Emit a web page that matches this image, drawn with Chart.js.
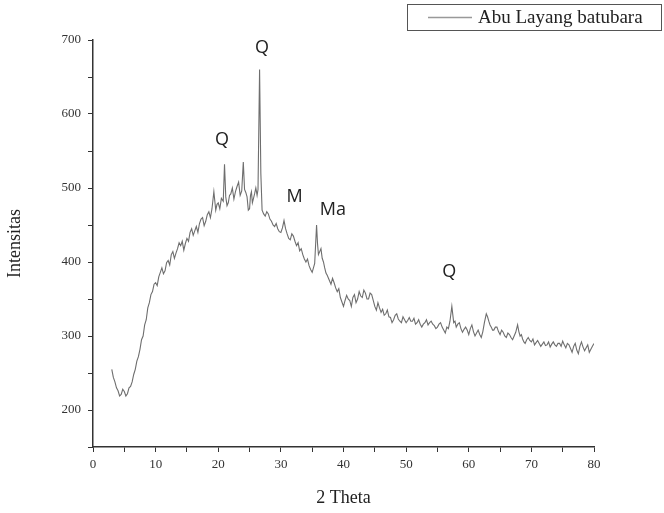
<!DOCTYPE html>
<html>
<head>
<meta charset="utf-8">
<script src="https://cdn.jsdelivr.net/npm/chart.js@4/dist/chart.umd.min.js"></script>
<style>
html,body{margin:0;padding:0;background:#fff;}
#wrap{width:664px;height:513px;position:relative;}
</style>
</head>
<body>
<div id="wrap"><canvas id="c" width="664" height="513"></canvas></div>
<script>
const seriesLabel = 'Abu Layang batubara';
const twoTheta = [
  3.0,3.25,3.5,3.75, 4.0,4.25,4.5,4.75, 5.0,5.25,5.5,5.75, 6.0,6.25,6.5,6.75,
  7.0,7.25,7.5,7.75, 8.0,8.25,8.5,8.75, 9.0,9.25,9.5,9.75, 10.0,10.25,10.5,10.75,
  11.0,11.25,11.5,11.75, 12.0,12.25,12.5,12.75, 13.0,13.25,13.5,13.75, 14.0,14.25,14.5,14.75,
  15.0,15.25,15.5,15.75, 16.0,16.25,16.5,16.75, 17.0,17.25,17.5,17.75, 18.0,18.25,18.5,18.75,
  19.0,19.3,19.6,19.8, 20.0,20.25,20.5,20.8, 21.0,21.2,21.4,21.6,21.8, 22.0,22.25,22.5,22.75,
  23.0,23.25,23.5,23.75, 24.0,24.2,24.4,24.6,24.8, 25.0,25.15,25.3,25.45,25.6,25.8,
  26.0,26.2,26.35,26.6,26.8, 27.0,27.25,27.5,27.75, 28.0,28.25,28.5,28.75, 29.0,29.25,29.5,29.75,
  30.0,30.25,30.5,30.75, 31.0,31.25,31.5,31.75, 32.0,32.25,32.5,32.75, 33.0,33.25,33.5,33.75,
  34.0,34.25,34.5,34.75, 35.0,35.2,35.4,35.7,35.85, 36.0,36.2,36.4,36.6,36.8, 37.0,37.2,37.4,37.6,37.8,
  38.0,38.25,38.5,38.75, 39.0,39.25,39.5,39.75, 40.0,40.25,40.5,40.75, 41.0,41.25,41.5,41.75,
  42.0,42.25,42.5,42.75, 43.0,43.25,43.5,43.75, 44.0,44.25,44.5,44.75, 45.0,45.25,45.5,45.75,
  46.0,46.25,46.5,46.75, 47.0,47.25,47.5,47.75, 48.0,48.25,48.5,48.75, 49.0,49.25,49.5,49.75,
  50.0,50.25,50.5,50.75, 51.0,51.25,51.5,51.75, 52.0,52.25,52.5,52.75, 53.0,53.25,53.5,53.75,
  54.0,54.25,54.5,54.75, 55.0,55.25,55.5,55.75, 56.0,56.25,56.5,56.75, 57.0,57.3,57.6,57.8,
  58.0,58.25,58.5,58.75, 59.0,59.25,59.5,59.75, 60.0,60.25,60.5,60.75, 61.0,61.25,61.5,61.75,
  62.0,62.25,62.5,62.8, 63.0,63.2,63.4,63.6,63.8, 64.0,64.25,64.5,64.75, 65.0,65.25,65.5,65.75,
  66.0,66.25,66.5,66.75, 67.0,67.25,67.5,67.8, 68.0,68.2,68.4,68.6,68.8, 69.0,69.25,69.5,69.75,
  70.0,70.25,70.5,70.75, 71.0,71.25,71.5,71.75, 72.0,72.25,72.5,72.75, 73.0,73.25,73.5,73.75,
  74.0,74.25,74.5,74.75, 75.0,75.25,75.5,75.75, 76.0,76.25,76.5,76.75, 77.0,77.25,77.5,77.75,
  78.0,78.25,78.5,78.75, 79.0,79.25,79.5,79.75, 80.0
];
const intensity = [
  255,244,238,230, 226,219,221,228, 225,219,222,230, 232,238,248,255,
  266,272,282,295, 300,315,322,338, 345,356,360,370, 372,368,380,386,
  392,384,388,399, 402,396,410,414, 405,412,418,426, 422,428,416,425,
  432,428,440,445, 436,442,448,440, 452,458,460,449, 455,464,468,460,
  472,495,470,478, 480,472,486,482, 532,488,476,480,490, 492,500,485,495,
  502,508,490,496, 535,498,494,488,470, 472,490,495,480,485,492,
  500,490,498,660,520, 470,465,462,468, 465,458,455,450, 448,452,445,441,
  440,446,456,445, 438,432,430,438, 435,428,422,426, 415,418,410,404,
  400,404,395,390, 386,392,398,450,425, 410,414,418,405,400, 392,385,382,378,374,
  370,378,372,365, 360,364,352,346, 340,348,355,350, 348,340,352,356,
  345,350,360,354, 352,362,358,350, 350,358,356,348, 340,335,345,338,
  332,336,328,330, 335,326,325,318, 322,328,330,323, 320,318,326,322,
  318,321,325,320, 320,324,316,318, 322,316,312,316, 318,322,315,318,
  320,316,314,310, 312,316,318,312, 308,304,312,310, 320,340,318,320,
  312,316,318,310, 305,309,312,308, 302,310,315,306, 300,304,308,302,
  298,306,318,330, 326,320,315,312,308, 308,312,312,306, 302,308,305,300,
  298,304,302,298, 295,300,305,315, 306,300,302,296,292, 290,295,298,294,
  292,296,288,291, 294,290,286,289, 292,287,288,292, 285,289,292,288,
  286,290,290,286, 293,288,284,290, 288,283,278,286, 290,281,276,286,
  292,285,280,284, 288,278,282,286, 290
];
const xTicksMajor = [0,10,20,30,40,50,60,70,80];
const yTicksMajor = [200,300,400,500,600,700];
const peakLabels = ['Q','Q','M','Ma','Q'];
const peakLabelX = [20.6,27.0,32.2,38.3,56.9];
const peakLabelY = [565,690,488,470,386];

const serif = '"Liberation Serif","DejaVu Serif",serif';

const annotPlugin = {
  id: 'annot',
  afterDatasetsDraw(chart) {
    const ctx = chart.ctx, xs = chart.scales.x, ys = chart.scales.y;
    ctx.save();
    ctx.font = '18px "Open Sans","Liberation Sans",sans-serif';
    ctx.fillStyle = '#222';
    ctx.textAlign = 'center';
    ctx.textBaseline = 'middle';
    peakLabels.forEach((t, i) => {
      ctx.fillText(t, xs.getPixelForValue(peakLabelX[i]), ys.getPixelForValue(peakLabelY[i]));
    });
    ctx.restore();
  },
  afterDraw(chart) {
    const ctx = chart.ctx;
    ctx.save();
    ctx.strokeStyle = '#555';
    ctx.lineWidth = 1;
    ctx.strokeRect(407.5, 4.5, 254, 26);
    ctx.strokeStyle = '#999';
    ctx.lineWidth = 1.5;
    ctx.beginPath(); ctx.moveTo(428, 17.5); ctx.lineTo(472, 17.5); ctx.stroke();
    ctx.font = '19px ' + serif;
    ctx.fillStyle = '#222';
    ctx.textBaseline = 'middle';
    ctx.fillText(chart.data.datasets[0].label, 478, 18);
    ctx.restore();
  }
};

new Chart(document.getElementById('c'), {
  type: 'line',
  data: {
    datasets: [{
      label: seriesLabel,
      data: twoTheta.map((x, i) => ({x: x, y: intensity[i]})),
      borderColor: '#6e6e6e',
      borderWidth: 1.1,
      pointRadius: 0,
      tension: 0,
      fill: false
    }]
  },
  options: {
    responsive: false,
    animation: false,
    layout: {padding: {left: 0, right: 70, top: 40, bottom: 0}},
    plugins: {legend: {display: false}, tooltip: {enabled: false}},
    scales: {
      x: {
        type: 'linear', min: 0, max: 80,
        afterFit(s) { s.height = 66; },
        ticks: {
          stepSize: 5, autoSkip: false, maxRotation: 0,
          padding: 5, color: '#333',
          font: {family: serif, size: 13},
          callback: v => xTicksMajor.includes(v) ? String(v) : ''
        },
        grid: {drawOnChartArea: false, drawTicks: true, tickLength: 5, color: '#333'},
        border: {display: true, color: '#333', width: 1.5},
        title: {display: true, text: '2 Theta', color: '#222', font: {family: serif, size: 18}, padding: {top: 8}}
      },
      y: {
        min: 150, max: 700,
        afterFit(s) { s.width = 93; },
        ticks: {
          stepSize: 50, autoSkip: false,
          padding: 7, color: '#333',
          font: {family: serif, size: 13},
          callback: v => yTicksMajor.includes(v) ? String(v) : ''
        },
        grid: {drawOnChartArea: false, drawTicks: true, tickLength: 5, color: '#333'},
        border: {display: true, color: '#333', width: 1.5},
        title: {display: true, text: 'Intensitas', color: '#222', font: {family: serif, size: 18}, padding: {bottom: 12}}
      }
    }
  },
  plugins: [annotPlugin]
});
</script>
</body>
</html>
